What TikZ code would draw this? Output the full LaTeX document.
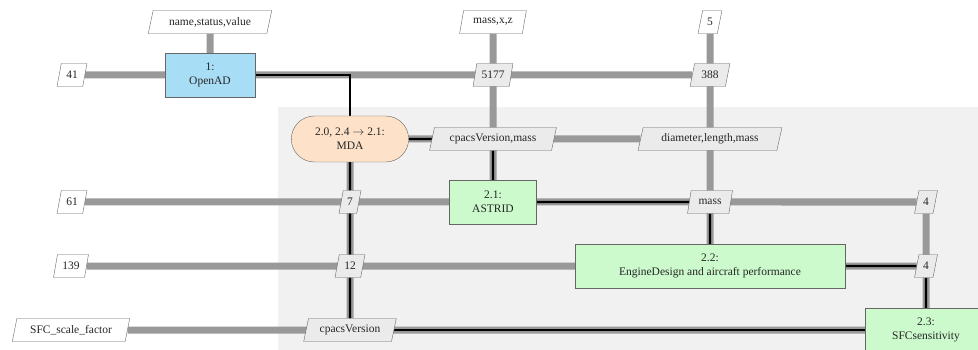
\documentclass[tikz,border=0pt]{standalone}
\usepackage{fontspec}
\setmainfont{Liberation Serif}
\usetikzlibrary{shapes.geometric,shapes.misc,backgrounds}

\definecolor{optblue}{RGB}{168,221,246}
\definecolor{funcgreen}{RGB}{204,250,204}
\definecolor{mdaorange}{RGB}{253,226,201}
\definecolor{panelgray}{RGB}{241,241,241}
\definecolor{datagray}{RGB}{153,153,153}

\tikzset{
    databox/.style={trapezium, trapezium left angle=75, trapezium right angle=105,
        trapezium stretches=true, draw=black!60, fill=white, minimum height=23pt, inner sep=2pt},
    datamid/.style={databox, fill=black!8},
    funcbox/.style={rectangle, draw=black!60, fill=funcgreen, minimum height=44pt, align=center},
    optbox/.style={funcbox, fill=optblue},
    mdabox/.style={rounded rectangle, draw=black!60, fill=mdaorange, minimum height=46pt, align=center},
    dataline/.style={line width=7pt, datagray},
    procline/.style={line width=2.2pt, black},
}

\begin{document}
\begin{tikzpicture}[x=1pt, y=-1pt, font=\fontsize{11.5}{14}\selectfont, text=black!85]
        \useasboundingbox (0,0) rectangle (978,350);

        % blocks on the diagonal
        \node[optbox, minimum width=90pt] (opt) at (210,75) {1:\\OpenAD};
        \node[mdabox, minimum width=124pt] (mda) at (350,139) {2.0, 2.4 $\rightarrow$ 2.1:\\MDA};
        \node[funcbox, minimum width=87pt] (astrid) at (493,202) {2.1:\\ASTRID};
        \node[funcbox, minimum width=270pt] (engine) at (710,266) {2.2:\\EngineDesign and aircraft performance};
        \node[funcbox, minimum width=122pt] (sfc) at (926,330) {2.3:\\SFCsensitivity};

        % inputs
        \node[databox, minimum width=124pt] (nsv) at (210,22) {name,status,value};
        \node[databox, minimum width=67pt] (mxz) at (493,22) {mass,x,z};
        \node[databox, minimum width=24pt] (in5) at (710,22) {5};
        \node[databox, minimum width=30pt] (in41) at (72,75) {41};
        \node[databox, minimum width=30pt] (in61) at (72,202) {61};
        \node[databox, minimum width=35pt] (in139) at (71,266) {139};
        \node[databox, minimum width=118pt] (insfc) at (71,330) {SFC\_scale\_factor};

        % couplings
        \node[datamid, minimum width=40pt] (d5177) at (493,75) {5177};
        \node[datamid, minimum width=40pt] (d388) at (710,75) {388};
        \node[datamid, minimum width=128pt] (cvm) at (493,139) {cpacsVersion,mass};
        \node[datamid, minimum width=144pt] (dlm) at (710,139) {diameter,length,mass};
        \node[datamid, minimum width=22pt] (d7) at (350,202) {7};
        \node[datamid, minimum width=45pt] (dmass) at (710,202) {mass};
        \node[datamid, minimum width=23pt] (d4a) at (926,202) {4};
        \node[datamid, minimum width=30pt] (d12) at (350,266) {12};
        \node[datamid, minimum width=23pt] (d4b) at (926,266) {4};
        \node[datamid, minimum width=93pt] (cv) at (350,330) {cpacsVersion};

        \begin{pgfonlayer}{background}
            \fill[panelgray] (278,107) rectangle (978,350);

            % data lines
            \draw[dataline] (nsv) -- (opt);
            \draw[dataline] (in41) -- (d388);
            \draw[dataline] (mxz) -- (astrid);
            \draw[dataline] (in5) -- (engine);
            \draw[dataline] (mda) -- (dlm);
            \draw[dataline] (mda) -- (cv);
            \draw[dataline] (in61) -- (d4a);
            \draw[dataline] (d4a) -- (sfc);
            \draw[dataline] (in139) -- (d4b);
            \draw[dataline] (insfc) -- (sfc);

            % process lines
            \draw[procline, line width=1.6pt] (opt.east) -| (mda.north);
            \draw[procline] (mda) -- (cvm);
            \draw[procline] (cvm) -- (astrid);
            \draw[procline] (mda) -- (cv);
            \draw[procline] (astrid) -- (dmass);
            \draw[procline] (dmass) -- (engine);
            \draw[procline] (engine) -- (d4b);
            \draw[procline] (d4b) -- (sfc);
            \draw[procline] (cv) -- (sfc);
        \end{pgfonlayer}
\end{tikzpicture}
\end{document}
